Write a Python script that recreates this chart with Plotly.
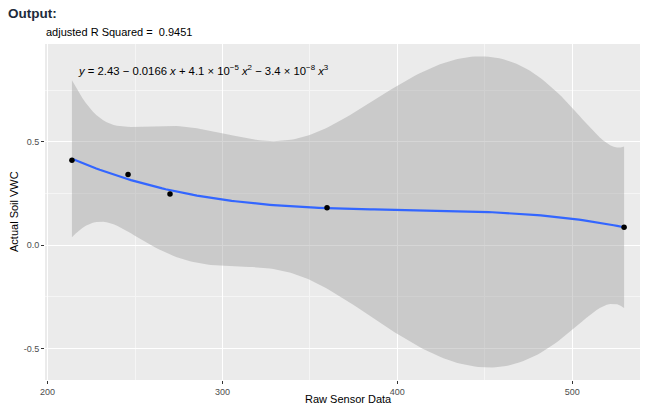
import numpy as np
import plotly.graph_objects as go

# data
raw_sensor = [213.9, 246.0, 270.0, 359.8, 529.7]
soil_vwc = [0.411, 0.342, 0.247, 0.181, 0.086]
x_ticks = [200, 300, 400, 500]
y_ticks = [-0.5, 0.0, 0.5]
y_tick_labels = ["-0.5", "0.0", "0.5"]
title_text = "adjusted R Squared =  0.9451"
eq_text = ("<i>y</i> = 2.43 − 0.0166 <i>x</i> + 4.1 × 10<sup>−5</sup> <i>x</i><sup>2</sup>"
           " − 3.4 × 10<sup>−8</sup> <i>x</i><sup>3</sup>")

# cubic fit (like geom_smooth(method='lm', formula=y~poly(x,3))) with 95% CI
x = np.array(raw_sensor)
y = np.array(soil_vwc)
xc = (x - x.mean()) / x.std()
X = np.vander(xc, 4, increasing=True)
beta, *_ = np.linalg.lstsq(X, y, rcond=None)
resid = y - X @ beta
dof = len(x) - 4
sigma2 = (resid ** 2).sum() / dof
XtX_inv = np.linalg.inv(X.T @ X)
tq = 12.7062047  # t(0.975, df=1)
xs = np.linspace(x.min(), x.max(), 160)
Xs = np.vander((xs - x.mean()) / x.std(), 4, increasing=True)
fit = Xs @ beta
se = np.sqrt(sigma2 * np.einsum("ij,jk,ik->i", Xs, XtX_inv, Xs))
upper = fit + tq * se
lower = fit - tq * se

fig = go.Figure()
fig.add_trace(go.Scatter(x=np.concatenate([xs, xs[::-1]]), y=np.concatenate([upper, lower[::-1]]),
                         fill="toself", fillcolor="rgba(153,153,153,0.4)", line=dict(width=0),
                         mode="lines", hoverinfo="skip", showlegend=False))
fig.add_trace(go.Scatter(x=xs, y=fit, mode="lines", line=dict(color="#3366FF", width=2.2),
                         showlegend=False))
fig.add_trace(go.Scatter(x=raw_sensor, y=soil_vwc, mode="markers",
                         marker=dict(color="black", size=5.5), showlegend=False))

FONT = "Liberation Sans, Arial, sans-serif"
tickfont = dict(family=FONT, size=9, color="#4d4d4d")
axfont = dict(family=FONT, size=11, color="black")
W, H = 645, 407
L, R, T, B = 45, 5, 44, 27
PW, PH = W - L - R, H - T - B


def px_x(p):
    return (p - L) / PW


def px_y(p):
    return 1 - (p - T) / PH


fig.update_layout(
    width=W, height=H,
    margin=dict(l=L, r=R, t=T, b=B),
    paper_bgcolor="white", plot_bgcolor="#EBEBEB",
    font=dict(family=FONT),
    xaxis=dict(range=[198.5, 538.8], tickvals=x_ticks, ticks="outside", ticklen=3,
               tickcolor="#333333", tickwidth=1, tickfont=tickfont, showgrid=True,
               gridcolor="white", gridwidth=1.1, zeroline=False, showline=False,
               automargin=False,
               minor=dict(dtick=50, tick0=250, showgrid=True, gridcolor="#F5F5F5", gridwidth=0.6)),
    yaxis=dict(range=[-0.653, 0.973], tickvals=y_ticks, ticktext=y_tick_labels, ticks="outside",
               ticklen=3, tickcolor="#333333", tickwidth=1, tickfont=tickfont, showgrid=True,
               gridcolor="white", gridwidth=1.1, zeroline=False, showline=False,
               automargin=False,
               minor=dict(dtick=0.25, tick0=0.25, showgrid=True, gridcolor="#F5F5F5", gridwidth=0.6)),
    annotations=[
        dict(text="<b>Output:</b>", xref="paper", yref="paper", x=px_x(6), y=px_y(13),
             xanchor="left", yanchor="middle", showarrow=False,
             font=dict(family=FONT, size=13.5, color="#1d2b3a")),
        dict(text=title_text, xref="paper", yref="paper", x=px_x(44), y=px_y(32),
             xanchor="left", yanchor="middle", showarrow=False,
             font=dict(family=FONT, size=11, color="black")),
        dict(text=eq_text, xref="paper", yref="paper", x=px_x(76), y=px_y(70),
             xanchor="left", yanchor="middle", showarrow=False,
             font=dict(family=FONT, size=11.3, color="black")),
        dict(text="Raw Sensor Data", xref="paper", yref="paper", x=px_x(348), y=px_y(399),
             xanchor="center", yanchor="middle", showarrow=False, font=axfont),
        dict(text="Actual Soil VWC", xref="paper", yref="paper", x=px_x(14), y=px_y(212),
             xanchor="center", yanchor="middle", showarrow=False, textangle=-90, font=axfont),
    ],
)
fig.write_html("out.html", config={"displayModeBar": False},
               post_script="document.body.style.margin='0';document.body.style.padding='0';")
